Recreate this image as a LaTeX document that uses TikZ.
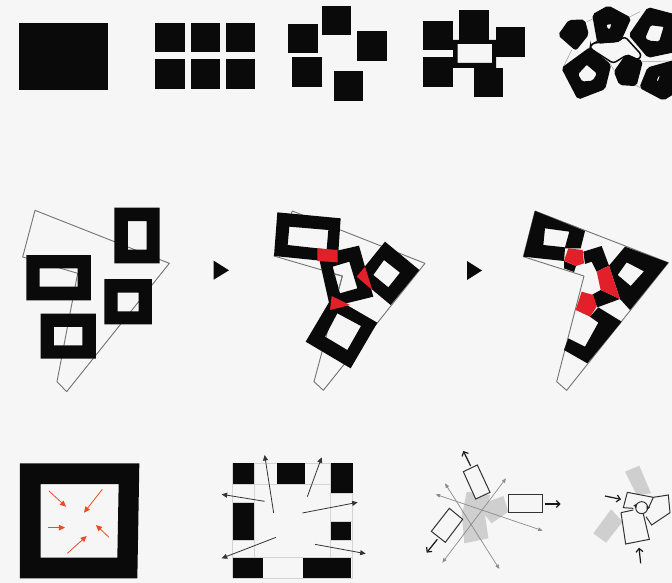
\documentclass[tikz,border=0pt]{standalone}
\usetikzlibrary{arrows.meta}
\definecolor{bg}{HTML}{F6F6F6}
\definecolor{ink}{HTML}{0A0A0A}
\definecolor{redfill}{HTML}{E3202A}
\definecolor{orangearrow}{HTML}{EE4A26}
\definecolor{fan}{HTML}{CFCFCF}
\definecolor{gridline}{HTML}{D4D4D4}
\tikzset{
  blk/.style={fill=ink,draw=none},
  frame/.style={fill=ink,even odd rule,draw=none},
  outl/.style={draw=black!55,line width=0.9pt,line join=round},
  redp/.style={fill=redfill,draw=none},
  roundp/.style={fill=ink,draw=ink,line width=2.2pt,rounded corners=2pt,even odd rule},
  orarrow/.style={draw=orangearrow,line width=0.8pt,-{Triangle[length=6pt,width=5.5pt]}},
  gridl/.style={draw=gridline,line width=0.8pt},
  darrow/.style={draw=black!80,line width=0.8pt,-{Triangle[length=5.5pt,width=5pt]}},
  garrow/.style={draw=black!45,line width=0.7pt,{Triangle[length=4.5pt,width=3.5pt]}-{Triangle[length=4.5pt,width=3.5pt]}},
  barrow/.style={draw=black!90,line width=1.2pt,-{Straight Barb[length=3.5pt,width=7pt]}},
  wrect/.style={draw=black!80,line width=1pt,line join=miter},
  zoomA/.style={shift={(270pt,0pt)},x=0.33333pt,y=-0.33333pt},
  zoomB/.style={shift={(0pt,-195pt)},x=0.33333pt,y=-0.33333pt},
  zoomC/.style={shift={(260pt,-200pt)},x=0.33333pt,y=-0.33333pt},
  zoomD/.style={shift={(510pt,-200pt)},x=0.33333pt,y=-0.33333pt},
  zoomE/.style={shift={(0pt,-445pt)},x=0.33333pt,y=-0.33333pt},
  zoomF/.style={shift={(420pt,-440pt)},x=0.33333pt,y=-0.33333pt},
}
\begin{document}
\begin{tikzpicture}[x=1pt,y=-1pt]
\useasboundingbox (0,0) rectangle (672,583);
\fill[bg] (0,0) rectangle (672,583);
\clip (0,0) rectangle (672,583);
% ---------- row 1
\fill[blk] (19,23) rectangle (108,90);
\foreach \xa/\xb in {155/185,191/220,226/255}{
  \fill[blk] (\xa,23) rectangle (\xb,52);
  \fill[blk] (\xa,59) rectangle (\xb,89);
}
\fill[blk] (288,24) rectangle (318,53);
\fill[blk] (322,6) rectangle (351,35);
\fill[blk] (357,31) rectangle (387,61);
\fill[blk] (292,57) rectangle (322,87);
\fill[blk] (334,71) rectangle (363,101);
% fourth
\fill[blk] (423,21) rectangle (453,50);
\fill[blk] (459,10) rectangle (489,43);
\fill[blk] (496,27) rectangle (525,57);
\fill[blk] (423,57) rectangle (453,87);
\fill[blk] (474,68) rectangle (503,97);
\fill[frame] (453,40) rectangle (496,68) (457.5,44) rectangle (492,63);
% fifth
\begin{scope}[zoomA]
\draw[draw=black!40,line width=0.5pt] (905,150)--(878,205) (950,65)--(985,50) (1080,50)--(1110,35)
  (1115,185)--(1206,183) (1095,255)--(1180,298) (1020,190)--(1035,215);
\draw[fill=bg,draw=ink,line width=1.5pt,rounded corners=3pt] (962,135)--(975,128)--(1040,125)--(1065,110)--(1115,165)--(1105,180)--(1070,165)--(1030,190)--(960,145)--cycle;
\draw[roundp] (868,105)--(898,63)--(942,62)--(953,103)--(917,148)--cycle;
\draw[roundp] (970,45)--(1015,20)--(1080,55)--(1050,122)--(985,128)--cycle (1005,72)--(1028,68)--(1022,92)--(1012,92)--cycle;
\draw[roundp] (1080,105)--(1135,25)--(1230,50)--(1230,150)--(1135,170)--cycle (1122,115)--(1140,72)--(1185,78)--(1170,128)--(1135,125)--cycle;
\draw[roundp] (878,205)--(960,145)--(1020,195)--(1003,265)--(925,295)--cycle (920,222)--(950,190)--(985,220)--(970,245)--(935,248)--cycle;
\draw[roundp] (1035,215)--(1070,165)--(1115,185)--(1097,255)--(1050,252)--cycle;
\draw[roundp] (1112,262)--(1135,205)--(1225,180)--(1225,270)--(1180,298)--cycle (1155,245)--(1165,222)--(1175,222)--(1165,250)--cycle;
\end{scope}
% ---------- row 2 panel 1
\begin{scope}[zoomB]
\draw[outl] (105,46)--(68,186)--(233,235)--(171,560)--(200,590)--(508,205)--cycle;
\fill[frame] (343,38) rectangle (479,205) (384,78) rectangle (440,164);
\fill[frame] (79,180) rectangle (273,316) (119,220) rectangle (233,275);
\fill[frame] (313,252) rectangle (456,388) (353,293) rectangle (416,349);
\fill[frame] (122,356) rectangle (288,491) (162,396) rectangle (247,451);
\fill[ink] (641,197)--(687,226)--(641,254)--cycle;
\end{scope}
\fill[ink] (467,261)--(482,270.5)--(467,280)--cycle;
% panel 2
\begin{scope}[zoomC]
\draw[outl] (97,33)--(42,168)--(247,228)--(162,545)--(190,571)--(495,190)--cycle;
\fill[frame] (52,37)--(242,55)--(233,187)--(42,168)--cycle (88,80)--(205,90)--(200,148)--(83,135)--cycle;
\fill[frame] (375,125)--(478,210)--(392,315)--(290,230)--cycle (372,180)--(420,218)--(385,262)--(340,225)--cycle;
\fill[frame] (217,290)--(352,368)--(272,505)--(137,425)--cycle (232,340)--(303,378)--(262,450)--(195,410)--cycle;
\fill[frame] (175,165)--(297,137)--(340,290)--(210,322)--cycle (218,200)--(268,185)--(292,265)--(240,280)--cycle;
\draw[outl] (222,222)--(247,228)--(236,268);
\fill[redp] (172,145)--(233,150)--(233,187)--(172,183)--cycle;
\fill[redp] (315,200)--(337,270)--(290,230)--cycle;
\fill[redp] (215,288)--(270,315)--(210,330)--cycle;
\end{scope}
% panel 3
\begin{scope}[zoomD]
\draw[outl] (75,33)--(40,170)--(222,228)--(140,545)--(170,571)--(475,188)--cycle;
\fill[frame] (75,33)--(225,93)--(212,145)--(165,145)--(162,183)--(40,170)--cycle (105,85)--(178,95)--(165,142)--(100,135)--cycle;
\fill[blk] (162,183)--(198,198)--(192,216)--(162,205)--cycle;
\fill[blk] (220,155)--(275,138)--(297,197)--(260,215)--(245,185)--(225,192)--cycle;
\fill[blk] (272,270)--(330,297)--(262,322)--(245,285)--cycle;
\fill[frame] (345,140)--(475,188)--(360,330)--(330,297)--(297,197)--cycle (350,187)--(402,214)--(362,258)--(323,225)--cycle;
\fill[blk] (240,350)--(265,322)--(335,365)--(232,490)--(162,450)--(175,415)--(225,440)--(265,368)--cycle;
\fill[redp] (175,145)--(218,150)--(222,190)--(198,198)--(162,182)--cycle;
\fill[redp] (260,215)--(297,197)--(330,297)--(272,270)--cycle;
\fill[redp] (215,275)--(250,285)--(260,320)--(240,350)--(197,330)--cycle;
\end{scope}
% ---------- row 3 panel 1
\begin{scope}[zoomE]
\fill[frame] (60,55)--(418,55)--(412,400)--(60,400)--cycle (122,117)--(356,117)--(352,338)--(122,338)--cycle;
\draw[orarrow] (147,138)--(198,185);
\draw[orarrow] (307,133)--(252,203);
\draw[orarrow] (145,248)--(195,248);
\draw[orarrow] (327,277)--(288,240);
\draw[orarrow] (202,325)--(260,273);
% panel 2
\foreach \yy in {55,117,338,400}{\draw[gridl] (698,\yy)--(1058,\yy);}
\foreach \xx in {698,762,992,1058}{\draw[gridl] (\xx,55)--(\xx,400);}
\draw[gridl] (698,173)--(762,173) (698,286)--(762,286) (992,145)--(1058,145) (992,230)--(1058,230) (992,286)--(1058,286);
\fill[blk] (698,55) rectangle (762,118);
\fill[blk] (830,55) rectangle (914,117);
\fill[blk] (994,55) rectangle (1058,145);
\fill[blk] (699,173) rectangle (762,286);
\fill[blk] (992,230) rectangle (1054,286);
\fill[blk] (698,338) rectangle (790,400);
\fill[blk] (908,338) rectangle (1052,400);
\draw[darrow] (794,169)--(665,148);
\draw[darrow] (821,204)--(794,30);
\draw[darrow] (922,155)--(965,37);
\draw[darrow] (907,204)--(1073,172);
\draw[darrow] (828,277)--(665,340);
\draw[darrow] (945,298)--(1097,326);
\end{scope}
% panel 3
\begin{scope}[zoomF]
\fill[fan] (140,155)--(210,165)--(205,185)--(250,168)--(265,215)--(215,250)--(195,225)--(205,295)--(133,310)--(125,215)--(130,205)--cycle;
\draw[garrow] (75,130)--(238,387);
\draw[garrow] (47,163)--(368,272);
\draw[garrow] (258,115)--(67,368);
\draw[wrect,fill=bg] (130,95)--(172,75)--(210,157)--(167,177)--cycle;
\draw[wrect,fill=bg] (265,163)--(368,163)--(368,218)--(265,218)--cycle;
\draw[wrect,fill=bg] (88,205)--(128,238)--(76,307)--(34,274)--cycle;
\draw[barrow] (152,78)--(130,33);
\draw[barrow] (374,192)--(422,192);
\draw[barrow] (52,298)--(20,338);
% panel 4
\fill[fan] (615,95)--(658,77)--(693,160)--(650,165)--cycle;
\fill[fan] (520,280)--(573,208)--(608,245)--(558,308)--cycle;
\draw[wrect] (622,157)--(700,172)--(685,205) (640,205)--(610,203)--(622,157);
\draw[wrect] (603,218)--(640,210) (670,222)--(688,298)--(617,312)--(603,218);
\draw[wrect] (700,172)--(745,165)--(750,218)--(695,255)--(678,230);
\draw[wrect] (665,203) circle [radius=18];
\draw[barrow] (555,168)--(603,178);
\draw[barrow] (662,370)--(657,323);
\fill[black!85] (650,191)--(640,197)--(650,203)--cycle;
\fill[black!85] (680,197)--(690,203)--(680,209)--cycle;
\end{scope}
\end{tikzpicture}
\end{document}
